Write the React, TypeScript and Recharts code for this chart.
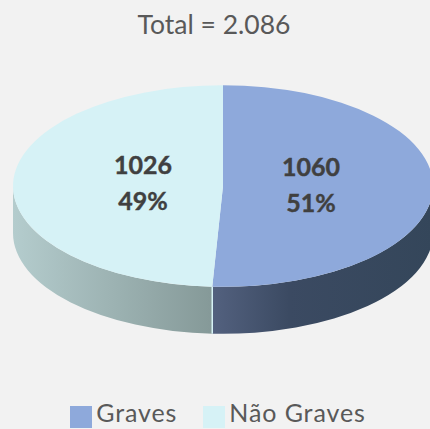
import { PieChart, Pie, Cell, Legend } from 'recharts';

const NAMES = ['Graves', 'Não Graves'];
const VALUES = [1060, 1026];
const PERCENTS = ['51%', '49%'];
const COLORS = ['#8ea9db', '#d6f2f6'];
const WALLS = ['url(#wallGraves)', 'url(#wallLeves)'];
const TITLE = 'Total = 2.086';

const chartData = NAMES.map((name, i) => ({ name, value: VALUES[i], percent: PERCENTS[i] }));

const FONT = 'Lato, sans-serif';
const SQUASH = 0.48;
const DEPTH = 47;
const RAD = Math.PI / 180;

// recharts only knows circles, so squash each sector into an ellipse and add the side wall
function Sector3D(props: any) {
    const { cx, cy, outerRadius, startAngle, endAngle, fill, index } = props;
    const rx = outerRadius;
    const ry = outerRadius * SQUASH;
    const pt = (a: number, dy = 0) => `${cx + rx * Math.cos(a * RAD)} ${cy - ry * Math.sin(a * RAD) + dy}`;
    const large = Math.abs(endAngle - startAngle) > 180 ? 1 : 0;

    const wallFrom = Math.min(startAngle, 0);
    const wallTo = Math.max(endAngle, -180);
    const top = `M${cx} ${cy} L${pt(startAngle)} A${rx} ${ry} 0 ${large} 1 ${pt(endAngle)} Z`;
    const wall =
        `M${pt(wallFrom)} A${rx} ${ry} 0 0 1 ${pt(wallTo)} ` +
        `L${pt(wallTo, DEPTH)} A${rx} ${ry} 0 0 0 ${pt(wallFrom, DEPTH)} Z`;

    return (
        <g>
            <path d={wall} fill={WALLS[index]} />
            <path d={top} fill={fill} />
            {index === 1 && (
                <path d={`M${pt(startAngle)} L${pt(startAngle, DEPTH)}`} stroke="#d6f2f6" strokeWidth={1.5} />
            )}
        </g>
    );
}

function SliceLabel(props: any) {
    const { cx, cy, outerRadius, midAngle, index } = props;
    const x = cx + 4 + outerRadius * 0.4 * Math.cos(midAngle * RAD);
    const y = cy - 2 + outerRadius * 0.4 * SQUASH * Math.sin(-midAngle * RAD);
    return (
        <text
            x={x}
            textAnchor="middle"
            fontFamily={FONT}
            fontWeight={700}
            fontSize={25}
            fill="#404040"
            stroke="#404040"
            strokeWidth={0.4}
        >
            <tspan x={x} y={y - 9}>{VALUES[index]}</tspan>
            <tspan x={x} y={y + 27}>{PERCENTS[index]}</tspan>
        </text>
    );
}

export default function App() {
    return (
        <div style={{ position: 'fixed', left: 0, top: 0, width: 430, height: 429, background: '#f2f2f2', overflow: 'hidden' }}>
            <PieChart width={430} height={429} margin={{ top: 0, right: 0, bottom: 0, left: 0 }}>
                <defs>
                    <linearGradient id="wallGraves" x1="0" y1="0" x2="1" y2="0">
                        <stop offset="0" stopColor="#53617f" />
                        <stop offset="0.35" stopColor="#3b4a62" />
                        <stop offset="1" stopColor="#34465a" />
                    </linearGradient>
                    <linearGradient id="wallLeves" x1="0" y1="0" x2="1" y2="0">
                        <stop offset="0" stopColor="#b4cccd" />
                        <stop offset="1" stopColor="#859998" />
                    </linearGradient>
                </defs>
                <text x={214} y={34} textAnchor="middle" fontFamily={FONT} fontSize={26.5} fill="#595959">
                    {TITLE}
                </text>
                <Pie
                    data={chartData}
                    dataKey="value"
                    nameKey="name"
                    cx={223}
                    cy={186}
                    outerRadius={210}
                    startAngle={90}
                    endAngle={-270}
                    stroke="none"
                    shape={Sector3D}
                    label={SliceLabel}
                    labelLine={false}
                    isAnimationActive={false}
                >
                    {chartData.map((_, i) => (
                        <Cell key={i} fill={COLORS[i]} />
                    ))}
                </Pie>
                <Legend
                    verticalAlign="bottom"
                    align="center"
                    iconType="square"
                    iconSize={22}
                    wrapperStyle={{ paddingLeft: 8, bottom: 1 }}
                    formatter={(value, _entry, i) => (
                        <span
                            style={{
                                color: '#595959',
                                fontSize: 25,
                                letterSpacing: 0.9,
                                fontFamily: FONT,
                                position: 'relative',
                                top: 1,
                                marginRight: i === 0 ? 16 : 0,
                            }}
                        >
                            {value}
                        </span>
                    )}
                />
            </PieChart>
        </div>
    );
}
